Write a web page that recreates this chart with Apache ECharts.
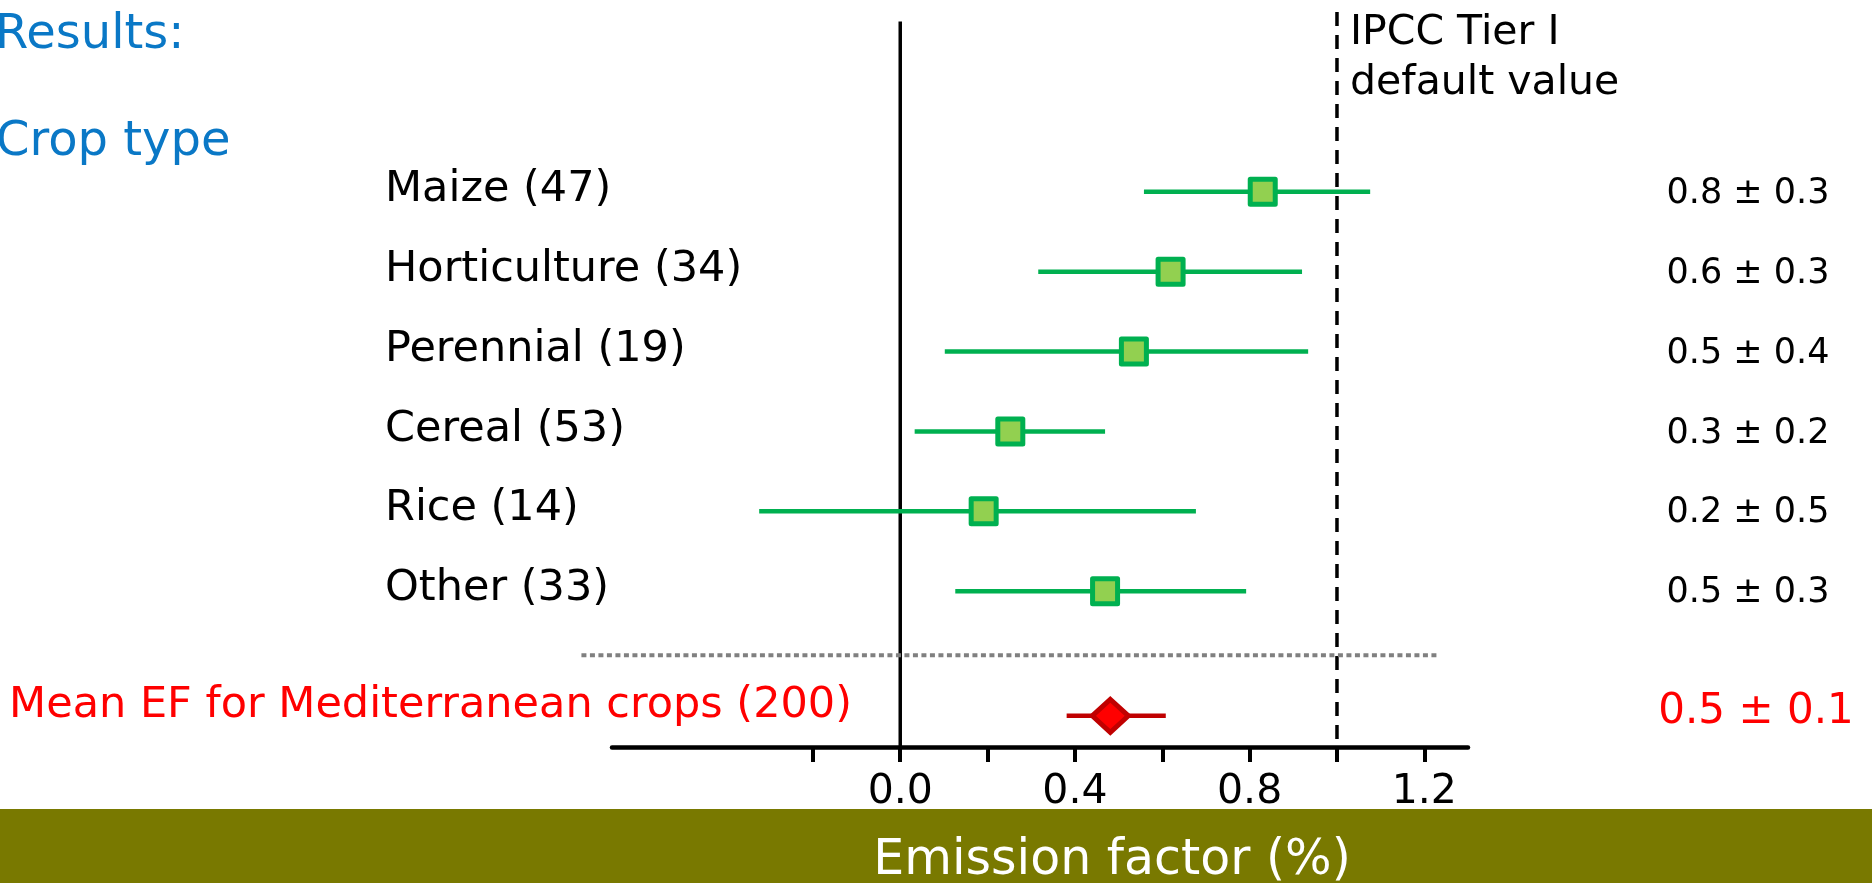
<!DOCTYPE html>
<html>
<head>
<meta charset="utf-8">
<script src="https://cdn.jsdelivr.net/npm/echarts@6/dist/echarts.min.js"></script>
<style>
  html, body { margin: 0; padding: 0; background: #ffffff; }
  #chart { width: 1872px; height: 883px; }
</style>
</head>
<body>
<div id="chart"></div>
<script>
// Emission factor (%) by crop type: mean with interval bounds
const crops = ['Maize (47)', 'Horticulture (34)', 'Perennial (19)', 'Cereal (53)', 'Rice (14)', 'Other (33)'];
const efMean = [0.830, 0.619, 0.535, 0.252, 0.191, 0.469];
const efLow = [0.558, 0.316, 0.102, 0.033, -0.323, 0.126];
const efHigh = [1.076, 0.920, 0.934, 0.469, 0.677, 0.792];

// Pooled estimate over all Mediterranean crops
const overallLabel = 'Mean EF for Mediterranean crops (200)';
const overallMean = [0.481];
const overallLow = [0.381];
const overallHigh = [0.608];

// IPCC Tier I default emission factor
const ipccDefault = [1.0];

// x-axis ticks and labelled ticks
const xTicks = [-0.2, 0, 0.2, 0.4, 0.6, 0.8, 1.0, 1.2];
const xTickLabels = [0, 0.4, 0.8, 1.2];

// ---- layout (row units on the hidden y axis, crop i sits at row i) ----
const ROW_MEAN = 6.56;
const ROW_SEP = 5.8;
const ZERO_TOP = -2.13;
const SEP_EXTENT = [-0.73, 1.23];
const FONT = '"DejaVu Sans", Verdana, sans-serif';

const GREEN_LINE = '#00B050';
const GREEN_FILL = '#92D050';
const RED_LINE = '#C00000';
const RED_FILL = '#FF0000';
const BLUE = '#0A78C6';
const OLIVE = '#797900';

function fmt(v) { return v.toFixed(1); }
function halfWidth(lo, hi) { return (hi - lo) / 2; }

const chart = echarts.init(document.getElementById('chart'), null, { renderer: 'canvas' });

function barRenderer(color) {
  return function (params, api) {
    const a = api.coord([api.value(0), api.value(2)]);
    const b = api.coord([api.value(1), api.value(2)]);
    return {
      type: 'line',
      shape: { x1: a[0], y1: a[1], x2: b[0], y2: b[1] },
      style: { stroke: color, lineWidth: 4.5, lineCap: 'butt' }
    };
  };
}

function textStyle(text, fill, size, align) {
  return {
    text: text, fill: fill, font: size + 'px ' + FONT,
    align: align, verticalAlign: 'middle', textAlign: align, textVerticalAlign: 'middle'
  };
}

const option = {
  animation: false,
  backgroundColor: '#ffffff',
  grid: { left: 612, right: 404, top: 12, bottom: 136, containLabel: false, outerBoundsMode: 'none' },
  xAxis: {
    type: 'value',
    min: -0.66,
    max: 1.3,
    axisLine: { show: true, onZero: false, lineStyle: { color: '#000', width: 4.5 } },
    axisTick: { show: true, inside: false, length: 15, customValues: xTicks, lineStyle: { color: '#000', width: 4 } },
    axisLabel: {
      show: true,
      customValues: xTickLabels,
      formatter: function (v) { return fmt(v); },
      margin: 25,
      color: '#000',
      fontSize: 41,
      fontFamily: FONT
    },
    splitLine: { show: false }
  },
  yAxis: {
    type: 'value',
    min: -2.25,
    max: 6.95,
    inverse: true,
    show: false,
    splitLine: { show: false }
  },
  graphic: [
    { type: 'rect', left: 0, top: 809, shape: { width: 1872, height: 74 }, style: { fill: OLIVE }, silent: true },
    { type: 'text', x: 1112, y: 861, style: textStyle('Emission factor (%)', '#ffffff', 49, 'center') },
    { type: 'text', x: -5, y: 36, style: textStyle('Results:', BLUE, 48, 'left') },
    { type: 'text', x: -4, y: 143, style: textStyle('Crop type', BLUE, 48, 'left') },
    { type: 'text', x: 1350, y: 33, style: textStyle('IPCC Tier I', '#000', 41, 'left') },
    { type: 'text', x: 1350, y: 83, style: textStyle('default value', '#000', 41, 'left') }
  ],
  series: [
    // guide lines: zero line, IPCC default (dashed), separator (dotted)
    {
      type: 'custom',
      name: 'guides',
      clip: false,
      silent: true,
      z: 1,
      data: [[ipccDefault[0]]],
      renderItem: function (params, api) {
        const z0 = api.coord([0, ZERO_TOP]);
        const z1 = api.coord([0, 6.95]);
        const d0 = api.coord([api.value(0), -2.25]);
        const d1 = api.coord([api.value(0), 6.95]);
        const s0 = api.coord([SEP_EXTENT[0], ROW_SEP]);
        const s1 = api.coord([SEP_EXTENT[1], ROW_SEP]);
        return {
          type: 'group',
          children: [
            { type: 'line', shape: { x1: z0[0], y1: z0[1], x2: z1[0], y2: z1[1] }, style: { stroke: '#000', lineWidth: 3.5 } },
            { type: 'line', shape: { x1: d0[0], y1: d0[1], x2: d1[0], y2: d1[1] }, style: { stroke: '#000', lineWidth: 3.5, lineDash: [14, 9] } },
            { type: 'line', shape: { x1: s0[0], y1: s0[1], x2: s1[0], y2: s1[1] }, style: { stroke: '#808080', lineWidth: 4, lineDash: [5, 3.5] } }
          ]
        };
      }
    },
    // crop interval bars
    {
      type: 'custom',
      name: 'crop intervals',
      clip: false,
      z: 2,
      encode: { x: [0, 1], y: 2 },
      data: crops.map(function (c, i) { return [efLow[i], efHigh[i], i]; }),
      renderItem: barRenderer(GREEN_LINE)
    },
    // crop means
    {
      type: 'scatter',
      name: 'crop means',
      clip: false,
      z: 3,
      symbol: 'rect',
      symbolSize: 25,
      itemStyle: { color: GREEN_FILL, borderColor: GREEN_LINE, borderWidth: 5, borderJoin: 'round', opacity: 1 },
      data: efMean.map(function (v, i) { return [v, i]; })
    },
    // pooled interval bar
    {
      type: 'custom',
      name: 'pooled interval',
      clip: false,
      z: 2,
      encode: { x: [0, 1], y: 2 },
      data: overallMean.map(function (v, i) { return [overallLow[i], overallHigh[i], ROW_MEAN]; }),
      renderItem: barRenderer(RED_LINE)
    },
    // pooled mean
    {
      type: 'scatter',
      name: 'pooled mean',
      clip: false,
      z: 3,
      symbol: 'diamond',
      symbolSize: [36, 33],
      itemStyle: { color: RED_FILL, borderColor: RED_LINE, borderWidth: 5, borderJoin: 'miter', opacity: 1 },
      data: overallMean.map(function (v) { return [v, ROW_MEAN]; })
    },
    // row labels and value summaries
    {
      type: 'custom',
      name: 'labels',
      clip: false,
      silent: true,
      z: 4,
      data: crops.map(function (c, i) { return [efMean[i], i]; }),
      renderItem: function (params, api) {
        const i = params.dataIndex;
        const y = api.coord([0, api.value(1)])[1];
        const summary = fmt(efMean[i]) + ' \u00B1 ' + fmt(halfWidth(efLow[i], efHigh[i]));
        return {
          type: 'group',
          children: [
            { type: 'text', x: 385, y: y - 2, style: textStyle(crops[i], '#000', 43, 'left') },
            { type: 'text', x: 1748, y: y + 2, style: textStyle(summary, '#000', 35, 'center') }
          ]
        };
      }
    },
    {
      type: 'custom',
      name: 'pooled labels',
      clip: false,
      silent: true,
      z: 4,
      data: overallMean.map(function (v) { return [v, ROW_MEAN]; }),
      renderItem: function (params, api) {
        const i = params.dataIndex;
        const y = api.coord([0, api.value(1)])[1];
        const summary = fmt(overallMean[i]) + ' \u00B1 ' + fmt(halfWidth(overallLow[i], overallHigh[i]));
        return {
          type: 'group',
          children: [
            { type: 'text', x: 852, y: y - 10, style: textStyle(overallLabel, RED_FILL, 43, 'right') },
            { type: 'text', x: 1756, y: y - 4, style: textStyle(summary, RED_FILL, 42, 'center') }
          ]
        };
      }
    }
  ]
};

chart.setOption(option);
</script>
</body>
</html>
